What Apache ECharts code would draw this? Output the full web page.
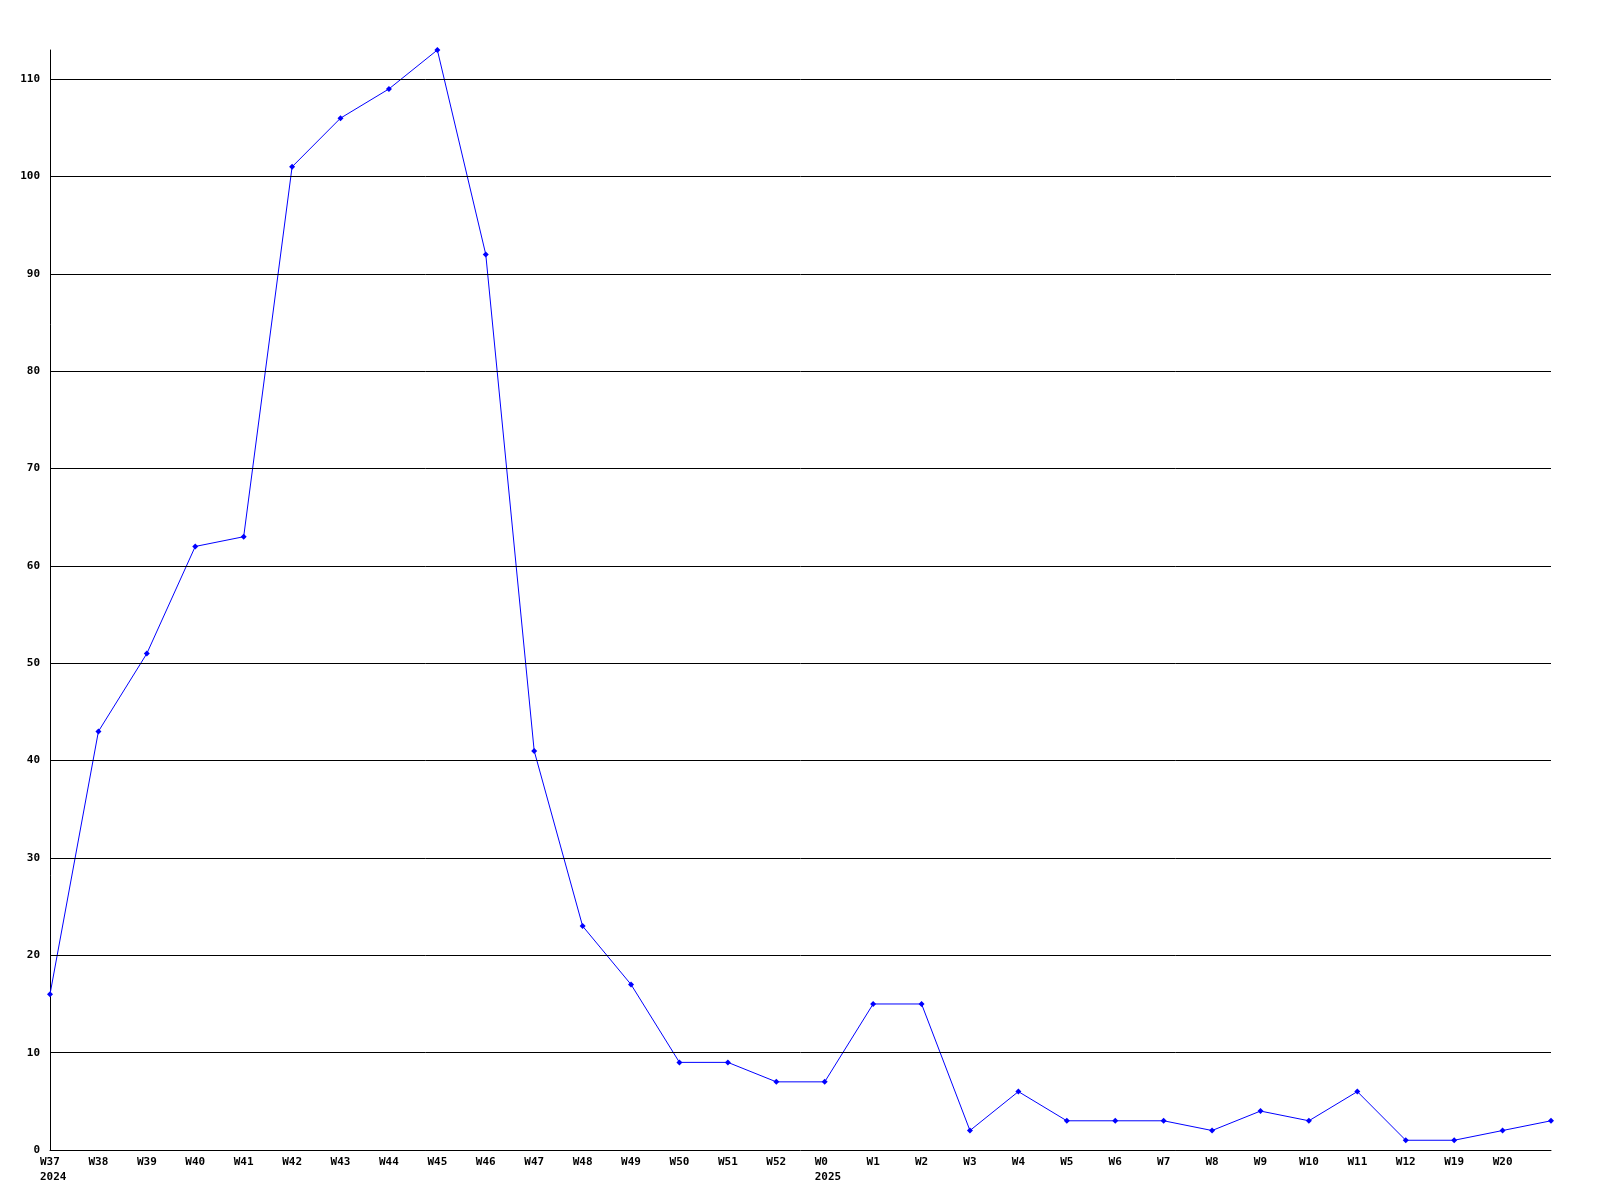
<!DOCTYPE html>
<html>
<head>
<meta charset="utf-8">
<script src="https://cdn.jsdelivr.net/npm/echarts@6/dist/echarts.min.js"></script>
<style>html,body{margin:0;padding:0;background:#fff}#c{width:1600px;height:1200px}</style>
</head>
<body>
<div id="c"></div>
<script>
const weeks = ['W37','W38','W39','W40','W41','W42','W43','W44','W45','W46','W47','W48','W49','W50','W51','W52','W0','W1','W2','W3','W4','W5','W6','W7','W8','W9','W10','W11','W12','W19','W20',''];
const years = {'W37':'2024','W0':'2025'};
const values = [16,43,51,62,63,101,106,109,113,92,41,23,17,9,9,7,7,15,15,2,6,3,3,3,2,4,3,6,1,1,2,3];
const yTicks = [10,20,30,40,50,60,70,80,90,100,110];
const yMax = 113;

const font = 'DejaVu Sans Mono';
const chart = echarts.init(document.getElementById('c'), null, {renderer:'canvas'});
chart.setOption({
  animation:false,
  backgroundColor:'#fff',
  grid:{left:50,right:49,top:50,bottom:50,containLabel:false},
  xAxis:{
    type:'category', data:weeks, boundaryGap:false,
    axisLine:{show:true,lineStyle:{color:'#000',width:1}},
    axisTick:{show:false},
    splitLine:{show:false},
    axisLabel:{
      interval:0, margin:5, color:'#000', fontFamily:font, fontWeight:'bold', fontSize:11, lineHeight:15,
      formatter:function(v){ return years[v] ? '{a|'+v+'}\n{a|'+years[v]+'}' : v; },
      rich:{a:{align:'left',width:20,fontFamily:font,fontWeight:'bold',fontSize:11,color:'#000',lineHeight:15}}
    }
  },
  yAxis:{
    type:'value', min:0, max:yMax, interval:10,
    axisLine:{show:true,lineStyle:{color:'#000',width:1}},
    axisTick:{show:false},
    splitLine:{show:false},
    axisLabel:{
      margin:10, color:'#000', fontFamily:font, fontWeight:'bold', fontSize:11,
      formatter:function(v){ return v % 10 === 0 ? String(v) : ''; }
    }
  },
  series:[{
    type:'line', data:values,
    symbol:'diamond', symbolSize:6, showAllSymbol:true,
    lineStyle:{color:'#0000ff',width:1},
    itemStyle:{color:'#0000ff'},
    markLine:{
      silent:true, symbol:['none','none'], animation:false,
      label:{show:false},
      lineStyle:{color:'#000',width:1,type:'solid'},
      data:yTicks.map(function(t){return {yAxis:t};})
    }
  }]
});
</script>
</body>
</html>
